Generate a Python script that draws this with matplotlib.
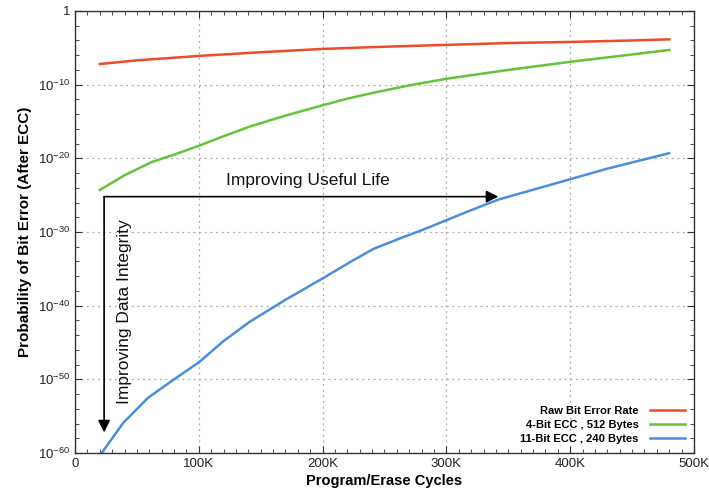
"""
Probability of bit error vs program/erase cycles (log scale)
"""
import numpy as np
import matplotlib
matplotlib.use('Agg')
import matplotlib.pyplot as plt
from matplotlib.ticker import FixedLocator, FuncFormatter, NullFormatter

plt.rcParams['font.family'] = ['Liberation Sans', 'DejaVu Sans']
plt.rcParams['mathtext.fontset'] = 'custom'
plt.rcParams['mathtext.rm'] = 'Liberation Sans'

# data: x in cycles, y given as log10 exponent
raw_x = [20000, 50000, 100000, 150000, 200000, 250000, 300000, 350000, 400000, 450000, 480000]
raw_exp = [-7.2, -6.7, -6.1, -5.6, -5.15, -4.85, -4.6, -4.35, -4.2, -4.0, -3.85]

ecc4_x = [20000, 40000, 62000, 80000, 100000, 120000, 141000, 170000, 200000, 220000, 241000,
          270000, 300000, 350000, 400000, 440000, 480000]
ecc4_exp = [-24.3, -22.3, -20.5, -19.5, -18.3, -17.0, -15.7, -14.2, -12.8, -11.9, -11.1,
            -10.1, -9.2, -8.0, -6.9, -6.1, -5.3]

ecc11_x = [22000, 39000, 59000, 80000, 100000, 120000, 141000, 170000, 200000, 222000, 241000,
           262000, 281000, 300000, 316000, 342000, 384000, 430000, 480000]
ecc11_exp = [-59.9, -55.9, -52.5, -50.0, -47.7, -44.8, -42.2, -39.2, -36.3, -34.1, -32.3,
             -30.9, -29.7, -28.4, -27.3, -25.6, -23.6, -21.4, -19.3]

labels = ['Raw Bit Error Rate', '4-Bit ECC , 512 Bytes', '11-Bit ECC , 240 Bytes']
colors = ['#ee4b2b', '#66c23a', '#4a8fd8']

# arrow corner and ends
arrow_x0, arrow_exp0 = 23500, -25.2
arrow_x1 = 342000
arrow_exp1 = -57.2

fig = plt.figure(figsize=(7.09, 4.95), dpi=100)
ax = fig.add_axes([0.1058, 0.0848, 0.8730, 0.8930])

for xs, es, c, lab in zip([raw_x, ecc4_x, ecc11_x], [raw_exp, ecc4_exp, ecc11_exp], colors, labels):
    ax.plot(xs, 10.0 ** np.array(es), color=c, lw=1.8, label=lab)

ax.set_yscale('log')
ax.set_xlim(0, 500000)
ax.set_ylim(1e-60, 1)

ax.xaxis.set_major_locator(FixedLocator(np.arange(0, 500001, 100000)))
ax.xaxis.set_minor_locator(FixedLocator(np.arange(0, 500001, 10000)))
ax.xaxis.set_major_formatter(FuncFormatter(lambda v, p: '0' if v == 0 else f'{int(v / 1000)}K'))

ax.yaxis.set_major_locator(FixedLocator(10.0 ** np.arange(0, -61, -10)))
ax.yaxis.set_minor_locator(FixedLocator(10.0 ** np.arange(0, -61, -2)))
ax.yaxis.set_minor_formatter(NullFormatter())


def yfmt(v, p):
    e = int(round(np.log10(v)))
    if e == 0:
        return '1'
    return r'10$^{\mathregular{%d}}$' % e


ax.yaxis.set_major_formatter(FuncFormatter(yfmt))

ax.tick_params(which='both', direction='in', top=True, right=True, labelsize=9.5, colors='#333333',
               labelcolor='#222222')
ax.tick_params(which='major', length=5)
ax.tick_params(which='minor', length=3)
ax.grid(True, which='major', color='#aaaaaa', linestyle=(0, (1.5, 3)), lw=0.9)
for s in ax.spines.values():
    s.set_color('#333333')
    s.set_linewidth(1.0)

ax.set_xlabel('Program/Erase Cycles', fontsize=10.5, fontweight='bold', labelpad=3)
ax.set_ylabel('Probability of Bit Error (After ECC)', fontsize=11, fontweight='bold', labelpad=4)

# arrows
ax.annotate('', xy=(arrow_x1, 10.0 ** arrow_exp0), xytext=(arrow_x0, 10.0 ** arrow_exp0),
            arrowprops=dict(arrowstyle='-|>', color='black', lw=1.2, mutation_scale=18,
                            shrinkA=0, shrinkB=0))
ax.annotate('', xy=(arrow_x0, 10.0 ** arrow_exp1), xytext=(arrow_x0, 10.0 ** arrow_exp0),
            arrowprops=dict(arrowstyle='-|>', color='black', lw=1.2, mutation_scale=18,
                            shrinkA=0, shrinkB=0))
ax.text(122000, 10.0 ** -23.6, 'Improving Useful Life', fontsize=12.5, color='#111111',
        ha='left', va='baseline')
ax.text(40000, 10.0 ** -40.8, 'Improving Data Integrity', fontsize=12.5, color='#111111',
        ha='center', va='center', rotation=90)

leg = ax.legend(loc='lower right', frameon=False, markerfirst=False,
                prop={'weight': 'bold', 'size': 8}, handlelength=3.2, labelspacing=0.35,
                borderaxespad=0.4, handletextpad=1.0)
for t in leg.get_texts():
    t.set_ha('right')

fig.savefig('out.png', dpi=100)
